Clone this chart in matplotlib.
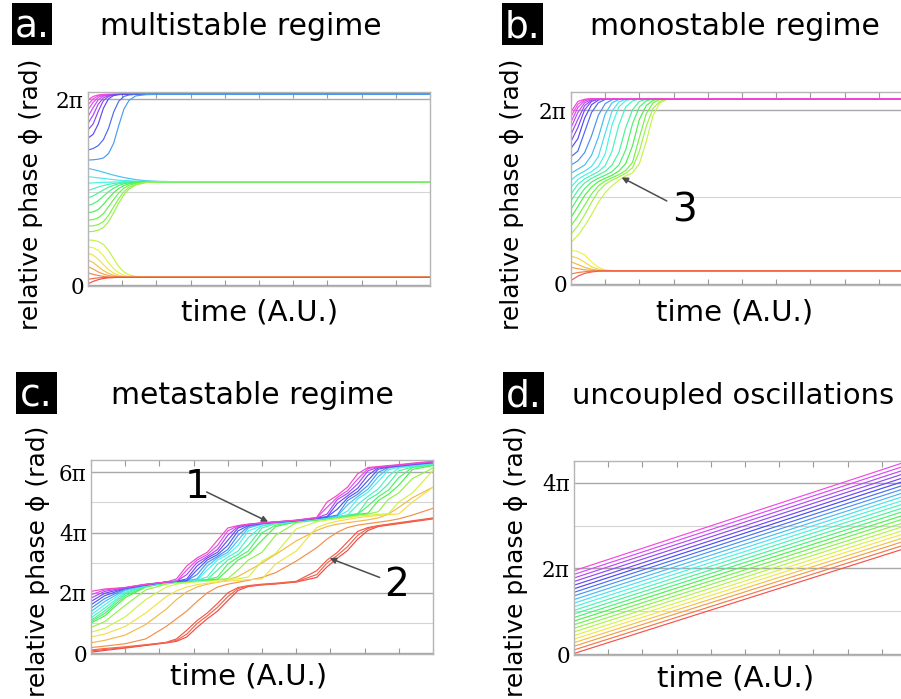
import numpy as np
import matplotlib
matplotlib.use('Agg')
import matplotlib.pyplot as plt
from matplotlib.colors import hsv_to_rgb
from matplotlib.patches import Rectangle

PI = np.pi

# ---- panel a: multistable (time A.U., phase rad) ----
t_a = [0, 0.15, 0.3, 0.45, 0.6, 0.75, 0.9, 1.05, 1.2, 1.4, 1.7, 2.1, 2.6, 10]
a_top = [
    [6.26, 6.38, 6.43, 6.45, 6.45, 6.45, 6.45, 6.45, 6.45, 6.45, 6.45, 6.45, 6.45, 6.45],
    [6.09, 6.30, 6.40, 6.44, 6.45, 6.45, 6.45, 6.45, 6.45, 6.45, 6.45, 6.45, 6.45, 6.45],
    [5.92, 6.18, 6.35, 6.42, 6.44, 6.45, 6.45, 6.45, 6.45, 6.45, 6.45, 6.45, 6.45, 6.45],
    [5.70, 6.00, 6.27, 6.39, 6.43, 6.45, 6.45, 6.45, 6.45, 6.45, 6.45, 6.45, 6.45, 6.45],
    [5.47, 5.75, 6.12, 6.33, 6.41, 6.44, 6.45, 6.45, 6.45, 6.45, 6.45, 6.45, 6.45, 6.45],
    [5.25, 5.45, 5.88, 6.24, 6.38, 6.43, 6.45, 6.45, 6.45, 6.45, 6.45, 6.45, 6.45, 6.45],
    [4.97, 5.10, 5.45, 5.98, 6.30, 6.41, 6.44, 6.45, 6.45, 6.45, 6.45, 6.45, 6.45, 6.45],
    [4.57, 4.62, 4.72, 4.92, 5.30, 5.85, 6.22, 6.38, 6.43, 6.45, 6.45, 6.45, 6.45, 6.45],
    [4.23, 4.24, 4.26, 4.30, 4.45, 4.80, 5.40, 5.95, 6.25, 6.40, 6.44, 6.45, 6.45, 6.45],
]
a_mid = [
    [3.95, 3.91, 3.87, 3.82, 3.77, 3.72, 3.68, 3.64, 3.61, 3.57, 3.53, 3.51, 3.50, 3.50],
    [3.67, 3.65, 3.63, 3.61, 3.59, 3.57, 3.55, 3.54, 3.53, 3.52, 3.51, 3.50, 3.50, 3.50],
    [3.45, 3.46, 3.47, 3.48, 3.48, 3.49, 3.49, 3.50, 3.50, 3.50, 3.50, 3.50, 3.50, 3.50],
    [3.20, 3.26, 3.32, 3.37, 3.41, 3.44, 3.46, 3.48, 3.49, 3.50, 3.50, 3.50, 3.50, 3.50],
    [2.95, 3.02, 3.12, 3.22, 3.31, 3.38, 3.43, 3.46, 3.48, 3.49, 3.50, 3.50, 3.50, 3.50],
    [2.70, 2.75, 2.86, 3.01, 3.16, 3.28, 3.37, 3.43, 3.46, 3.48, 3.50, 3.50, 3.50, 3.50],
    [2.45, 2.48, 2.56, 2.73, 2.94, 3.13, 3.27, 3.37, 3.43, 3.47, 3.49, 3.50, 3.50, 3.50],
    [2.20, 2.22, 2.28, 2.42, 2.65, 2.90, 3.12, 3.28, 3.38, 3.45, 3.49, 3.50, 3.50, 3.50],
    [2.00, 2.01, 2.05, 2.15, 2.36, 2.65, 2.93, 3.16, 3.31, 3.42, 3.48, 3.50, 3.50, 3.50],
    [1.81, 1.82, 1.86, 1.95, 2.15, 2.45, 2.78, 3.06, 3.25, 3.39, 3.47, 3.50, 3.50, 3.50],
]
a_low = [
    [1.53, 1.52, 1.48, 1.38, 1.18, 0.90, 0.63, 0.45, 0.35, 0.30, 0.28, 0.27, 0.27, 0.27],
    [1.30, 1.27, 1.18, 1.00, 0.76, 0.56, 0.42, 0.34, 0.30, 0.28, 0.27, 0.27, 0.27, 0.27],
    [1.08, 1.02, 0.88, 0.70, 0.53, 0.41, 0.34, 0.30, 0.28, 0.27, 0.27, 0.27, 0.27, 0.27],
    [0.85, 0.77, 0.63, 0.50, 0.40, 0.34, 0.30, 0.28, 0.27, 0.27, 0.27, 0.27, 0.27, 0.27],
    [0.63, 0.55, 0.45, 0.38, 0.33, 0.30, 0.28, 0.27, 0.27, 0.27, 0.27, 0.27, 0.27, 0.27],
    [0.42, 0.37, 0.33, 0.30, 0.28, 0.27, 0.27, 0.27, 0.27, 0.27, 0.27, 0.27, 0.27, 0.27],
    [0.20, 0.23, 0.25, 0.26, 0.27, 0.27, 0.27, 0.27, 0.27, 0.27, 0.27, 0.27, 0.27, 0.27],
    [0.05, 0.13, 0.19, 0.23, 0.25, 0.26, 0.27, 0.27, 0.27, 0.27, 0.27, 0.27, 0.27, 0.27],
]

# ---- panel b: monostable ----
t_b = [0, 0.2, 0.4, 0.6, 0.8, 1.0, 1.2, 1.4, 1.6, 1.8, 2.0, 2.2, 2.4, 2.6, 2.8, 3.0, 10]
b_top = [
    [6.22, 6.60, 6.68, 6.70, 6.70, 6.70, 6.70, 6.70, 6.70, 6.70, 6.70, 6.70, 6.70, 6.70, 6.70, 6.70, 6.70],
    [6.05, 6.50, 6.66, 6.70, 6.70, 6.70, 6.70, 6.70, 6.70, 6.70, 6.70, 6.70, 6.70, 6.70, 6.70, 6.70, 6.70],
    [5.85, 6.38, 6.62, 6.69, 6.70, 6.70, 6.70, 6.70, 6.70, 6.70, 6.70, 6.70, 6.70, 6.70, 6.70, 6.70, 6.70],
    [5.65, 6.20, 6.55, 6.67, 6.70, 6.70, 6.70, 6.70, 6.70, 6.70, 6.70, 6.70, 6.70, 6.70, 6.70, 6.70, 6.70],
    [5.40, 5.95, 6.45, 6.64, 6.69, 6.70, 6.70, 6.70, 6.70, 6.70, 6.70, 6.70, 6.70, 6.70, 6.70, 6.70, 6.70],
    [5.15, 5.65, 6.30, 6.60, 6.68, 6.70, 6.70, 6.70, 6.70, 6.70, 6.70, 6.70, 6.70, 6.70, 6.70, 6.70, 6.70],
    [4.90, 5.25, 6.00, 6.48, 6.65, 6.70, 6.70, 6.70, 6.70, 6.70, 6.70, 6.70, 6.70, 6.70, 6.70, 6.70, 6.70],
    [4.60, 4.80, 5.50, 6.20, 6.55, 6.67, 6.70, 6.70, 6.70, 6.70, 6.70, 6.70, 6.70, 6.70, 6.70, 6.70, 6.70],
    [4.30, 4.45, 4.75, 5.35, 6.10, 6.52, 6.66, 6.70, 6.70, 6.70, 6.70, 6.70, 6.70, 6.70, 6.70, 6.70, 6.70],
    [4.00, 4.15, 4.30, 4.65, 5.30, 6.15, 6.55, 6.67, 6.70, 6.70, 6.70, 6.70, 6.70, 6.70, 6.70, 6.70, 6.70],
    [3.75, 3.95, 4.08, 4.25, 4.60, 5.45, 6.25, 6.58, 6.68, 6.70, 6.70, 6.70, 6.70, 6.70, 6.70, 6.70, 6.70],
    [3.50, 3.78, 3.93, 4.06, 4.25, 4.70, 5.75, 6.40, 6.63, 6.69, 6.70, 6.70, 6.70, 6.70, 6.70, 6.70, 6.70],
    [3.25, 3.60, 3.80, 3.93, 4.06, 4.28, 4.80, 5.75, 6.40, 6.62, 6.69, 6.70, 6.70, 6.70, 6.70, 6.70, 6.70],
    [3.00, 3.38, 3.65, 3.82, 3.94, 4.07, 4.30, 4.75, 5.65, 6.30, 6.60, 6.68, 6.70, 6.70, 6.70, 6.70, 6.70],
    [2.70, 3.10, 3.45, 3.68, 3.82, 3.93, 4.06, 4.30, 4.85, 5.80, 6.40, 6.62, 6.69, 6.70, 6.70, 6.70, 6.70],
    [2.40, 2.80, 3.20, 3.50, 3.70, 3.82, 3.93, 4.08, 4.35, 5.00, 5.95, 6.45, 6.64, 6.69, 6.70, 6.70, 6.70],
    [2.10, 2.45, 2.85, 3.25, 3.55, 3.72, 3.84, 3.95, 4.10, 4.40, 5.30, 6.15, 6.55, 6.67, 6.70, 6.70, 6.70],
    [1.80, 2.10, 2.50, 2.95, 3.35, 3.60, 3.75, 3.87, 4.00, 4.20, 4.80, 5.70, 6.35, 6.60, 6.68, 6.70, 6.70],
    [1.50, 1.75, 2.10, 2.50, 2.95, 3.30, 3.55, 3.75, 3.90, 4.02, 4.35, 5.15, 6.10, 6.55, 6.67, 6.70, 6.70],
]
b_low = [
    [1.21, 1.17, 1.05, 0.80, 0.60, 0.51, 0.48, 0.47, 0.47, 0.47, 0.47, 0.47, 0.47, 0.47, 0.47, 0.47, 0.47],
    [1.00, 0.93, 0.78, 0.62, 0.53, 0.49, 0.47, 0.47, 0.47, 0.47, 0.47, 0.47, 0.47, 0.47, 0.47, 0.47, 0.47],
    [0.80, 0.70, 0.60, 0.53, 0.49, 0.47, 0.47, 0.47, 0.47, 0.47, 0.47, 0.47, 0.47, 0.47, 0.47, 0.47, 0.47],
    [0.60, 0.55, 0.51, 0.49, 0.48, 0.47, 0.47, 0.47, 0.47, 0.47, 0.47, 0.47, 0.47, 0.47, 0.47, 0.47, 0.47],
    [0.36, 0.41, 0.44, 0.46, 0.47, 0.47, 0.47, 0.47, 0.47, 0.47, 0.47, 0.47, 0.47, 0.47, 0.47, 0.47, 0.47],
    [0.12, 0.28, 0.38, 0.43, 0.46, 0.47, 0.47, 0.47, 0.47, 0.47, 0.47, 0.47, 0.47, 0.47, 0.47, 0.47, 0.47],
]

# ---- panel c: metastable ----
t_c = [0, 0.4, 1.0, 1.6, 2.2, 2.5, 2.8, 3.1, 3.4, 3.7, 4.0, 4.3, 4.6, 5.0, 5.4,
       6.0, 6.6, 6.9, 7.2, 7.5, 7.8, 8.1, 8.4, 8.7, 9.0, 9.4, 10]
c_red = [
    [0.12, 0.30, 0.55, 0.82, 1.08, 1.25, 1.70, 2.70, 3.60, 4.40, 5.50, 6.55, 6.95, 7.12, 7.22,
     7.42, 7.90, 9.00, 9.90, 10.7, 11.9, 12.8, 13.2, 13.35, 13.5, 13.7, 14.0],
    [0.25, 0.40, 0.60, 0.85, 1.15, 1.50, 2.40, 3.40, 4.20, 5.20, 6.30, 6.85, 7.05, 7.20, 7.30,
     7.50, 8.60, 9.70, 10.5, 11.6, 12.7, 13.1, 13.3, 13.45, 13.6, 13.8, 14.1],
    [0.35, 0.50, 0.68, 0.90, 1.12, 1.35, 2.00, 3.10, 3.90, 4.80, 5.90, 6.75, 7.00, 7.15, 7.25,
     7.45, 8.20, 9.40, 10.2, 11.1, 12.3, 13.0, 13.25, 13.4, 13.55, 13.75, 14.05],
]
c_orange = [
    [0.60, 0.75, 1.00, 1.50, 2.80, 3.60, 4.40, 5.40, 6.30, 6.90, 7.20, 7.40, 7.60, 7.90, 8.40,
     9.60, 11.0, 11.9, 12.6, 13.1, 13.35, 13.5, 13.65, 13.8, 14.0, 14.4, 15.1],
    [1.10, 1.35, 1.90, 3.00, 4.60, 5.60, 6.40, 6.90, 7.20, 7.40, 7.65, 8.00, 8.60, 9.40, 10.3,
     11.7, 12.8, 13.2, 13.45, 13.6, 13.75, 13.9, 14.1, 14.5, 15.2, 16.2, 17.3],
]
c_yellow = [
    [1.70, 2.00, 2.80, 4.20, 5.90, 6.50, 6.90, 7.15, 7.30, 7.42, 7.52, 7.60, 7.68, 7.75, 9.30,
     10.65, 13.1, 13.5, 13.75, 13.95, 14.12, 14.25, 14.35, 14.45, 14.52, 15.75, 17.3],
    [2.20, 2.60, 3.80, 5.60, 6.90, 7.20, 7.35, 7.45, 7.55, 7.62, 7.70, 7.76, 7.95, 9.60, 10.4,
     12.95, 13.7, 13.88, 14.02, 14.15, 14.28, 14.38, 14.46, 14.55, 15.75, 16.7, 19.05],
    [2.70, 3.30, 5.00, 6.60, 7.20, 7.35, 7.45, 7.55, 7.62, 7.70, 7.78, 8.68, 9.72, 10.52, 12.3,
     13.6, 13.85, 13.98, 14.12, 14.25, 14.4, 14.5, 14.75, 16.05, 16.7, 18.2, 19.3],
]
c_bundle = [
    [3.15, 3.90, 5.80, 6.90, 7.32, 7.42, 7.50, 7.58, 7.64, 7.72, 8.68, 9.72, 10.28, 11.77, 13.2,
     13.68, 13.9, 14.03, 14.18, 14.32, 14.48, 14.6, 15.9, 16.57, 17.5, 19.15, 19.55],
    [3.30, 4.15, 6.00, 6.95, 7.34, 7.44, 7.52, 7.60, 7.66, 7.95, 9.30, 10.0, 10.65, 12.55, 13.35,
     13.7, 13.92, 14.05, 14.2, 14.35, 14.5, 15.35, 16.3, 17.0, 18.3, 19.36, 19.6],
    [3.45, 4.40, 6.20, 7.00, 7.36, 7.46, 7.54, 7.60, 7.68, 8.68, 9.72, 10.28, 11.25, 13.05, 13.5,
     13.72, 13.95, 14.08, 14.22, 14.38, 14.55, 16.0, 16.65, 17.65, 19.0, 19.4, 19.65],
    [3.70, 4.70, 6.35, 7.02, 7.38, 7.48, 7.55, 7.62, 7.95, 9.30, 10.0, 10.65, 12.05, 13.25, 13.55,
     13.74, 13.98, 14.1, 14.25, 14.4, 15.5, 16.35, 17.12, 18.45, 19.3, 19.48, 19.72],
    [4.00, 5.05, 6.50, 7.05, 7.40, 7.50, 7.56, 7.62, 8.68, 9.72, 10.28, 11.25, 12.75, 13.3, 13.58,
     13.76, 14.0, 14.13, 14.28, 14.8, 16.1, 16.78, 17.9, 19.1, 19.38, 19.55, 19.78],
    [4.35, 5.40, 6.60, 7.08, 7.42, 7.50, 7.56, 7.75, 9.10, 9.93, 10.52, 11.77, 13.05, 13.45, 13.6,
     13.78, 14.02, 14.15, 14.3, 15.45, 16.33, 17.1, 18.4, 19.29, 19.45, 19.6, 19.82],
    [4.70, 5.70, 6.70, 7.10, 7.42, 7.50, 7.56, 8.20, 9.45, 10.08, 10.82, 12.3, 13.2, 13.5, 13.63,
     13.8, 14.05, 14.18, 14.4, 15.9, 16.57, 17.5, 18.85, 19.37, 19.5, 19.65, 19.85],
    [5.05, 6.00, 6.75, 7.12, 7.42, 7.50, 7.56, 8.68, 9.72, 10.28, 11.25, 12.75, 13.3, 13.53, 13.65,
     13.82, 14.06, 14.2, 15.0, 16.17, 16.85, 18.0, 19.17, 19.4, 19.52, 19.67, 19.87],
    [5.40, 6.25, 6.80, 7.14, 7.42, 7.50, 7.75, 9.10, 9.93, 10.52, 11.77, 13.05, 13.4, 13.55, 13.66,
     13.83, 14.08, 14.22, 15.6, 16.4, 17.2, 18.55, 19.32, 19.45, 19.55, 19.7, 19.9],
    [5.75, 6.45, 6.83, 7.16, 7.42, 7.50, 8.20, 9.45, 10.08, 10.82, 12.3, 13.2, 13.42, 13.56, 13.67,
     13.84, 14.1, 14.5, 16.0, 16.65, 17.65, 19.0, 19.38, 19.48, 19.58, 19.72, 19.92],
    [6.10, 6.60, 6.85, 7.18, 7.42, 7.50, 8.68, 9.72, 10.28, 11.25, 12.75, 13.28, 13.43, 13.58, 13.68,
     13.85, 14.12, 15.2, 16.23, 16.93, 18.15, 19.23, 19.4, 19.5, 19.6, 19.75, 19.95],
    [6.45, 6.70, 6.85, 7.20, 7.42, 7.75, 9.10, 9.93, 10.52, 11.77, 13.05, 13.3, 13.45, 13.6, 13.7,
     13.87, 14.15, 15.75, 16.45, 17.3, 18.7, 19.35, 19.45, 19.55, 19.65, 19.8, 20.0],
]
c_hue = [0.0, 0.015, 0.03, 0.07, 0.11, 0.15, 0.2, 0.26,
         0.33, 0.37, 0.41, 0.46, 0.5, 0.55, 0.6, 0.65, 0.7, 0.76, 0.82, 0.88]

# ---- panel d: uncoupled ----
t_d = [0, 10]
d_start = [0.07, 0.33, 0.60, 0.86, 1.12, 1.38, 1.65, 1.91, 2.17, 2.44, 2.70, 2.96,
           3.22, 3.49, 3.75, 4.01, 4.28, 4.54, 4.80, 5.06, 5.33, 5.59, 5.85, 6.12]
d_end = [8.00, 8.27, 8.55, 8.82, 9.10, 9.37, 9.65, 9.92, 10.20, 10.47, 10.75, 11.02,
         11.30, 11.57, 11.85, 12.12, 12.40, 12.67, 12.95, 13.22, 13.50, 13.77, 14.05, 14.32]

letters = ['a.', 'b.', 'c.', 'd.']
titles = ['multistable regime', 'monostable regime', 'metastable regime', 'uncoupled oscillations']
xlabel = 'time (A.U.)'
ylabel = 'relative phase \u03d5 (rad)'

plt.rcParams['font.family'] = ['DejaVu Sans']

W, H = 901, 699
fig = plt.figure(figsize=(W / 100, H / 100), dpi=100)


def px_axes(l, t, r, b):
    return fig.add_axes([l / W, 1 - b / H, (r - l) / W, (b - t) / H])


def ftext(x, y, s, **kw):
    return fig.text(x / W, 1 - y / H, s, **kw)


def col(h):
    return hsv_to_rgb((h, 0.7, 0.95))


def phase_hue(p):
    return min(p / (2 * PI), 1.0) * 0.87


def frame(ax, ylim, n_pi, tick_k):
    ax.set_xlim(0, 10)
    ax.set_ylim(*ylim)
    for k in range(n_pi + 1):
        even = k % 2 == 0
        ax.axhline(k * PI, color='#a8a8a8' if even else '#d4d4d4', lw=1.0 if even else 0.8, zorder=0)
    ax.set_xticks(range(11))
    ax.set_xticklabels([])
    ax.tick_params(axis='x', direction='in', length=4, width=0.8, color='#9a9a9a', top=True)
    ax.set_yticks([k * PI for k in tick_k])
    ax.set_yticklabels(['0' if k == 0 else '%d\u03c0' % k for k in tick_k],
                       fontfamily='DejaVu Serif', fontsize=15.5)
    ax.tick_params(axis='y', length=0, pad=3)
    for s in ax.spines.values():
        s.set_color('#b5b5b5')
        s.set_linewidth(1.0)


def arrow(ax, tail, tip):
    ax.annotate('', xy=tip, xytext=tail,
                arrowprops=dict(arrowstyle='-|>', color='#4d4d4d', lw=1.1,
                                mutation_scale=9, shrinkA=0, shrinkB=0))


ax_a = px_axes(88, 92, 430, 286)
ax_b = px_axes(571, 92, 913, 285)
ax_c = px_axes(91, 460, 433, 654)
ax_d = px_axes(574, 461, 916, 655)

frame(ax_a, (-0.024, 6.53), 2, [0, 2])
frame(ax_b, (-0.04, 6.94), 2, [0, 2])
frame(ax_c, (-0.07, 20.13), 6, [0, 2, 4, 6])
frame(ax_d, (-0.04, 14.14), 4, [0, 2, 4])

for row in a_low + a_mid + a_top:
    ax_a.plot(t_a, row, color=col(phase_hue(row[0])), lw=0.85)

for row in b_low + b_top[::-1]:
    ax_b.plot(t_b, row, color=col(phase_hue(row[0])), lw=0.85)

for row, h in zip(c_red + c_orange + c_yellow + c_bundle, c_hue):
    ax_c.plot(t_c, row, color=col(h), lw=0.85)

for p0, p1 in zip(d_start, d_end):
    ax_d.plot(t_d, [p0, p1], color=col(phase_hue(p0)), lw=0.85)

# annotations
arrow(ax_b, (2.8, 3.0), (1.48, 3.85))
ax_b.text(3.31, 2.64, '3', ha='center', va='center', fontsize=28)
arrow(ax_c, (3.38, 16.8), (5.18, 13.7))
ax_c.text(3.09, 17.35, '1', ha='center', va='center', fontsize=28)
arrow(ax_c, (8.44, 7.9), (6.98, 9.9))
ax_c.text(8.93, 7.1, '2', ha='center', va='center', fontsize=28)

# panel letters, titles and axis labels
boxes = [(12, 3, 52, 45), (502, 3, 543, 45), (16, 372, 57, 414), (503, 372, 544, 414)]
for (l, t, r, b), s in zip(boxes, letters):
    fig.patches.append(Rectangle((l / W, 1 - b / H), (r - l) / W, (b - t) / H,
                                 transform=fig.transFigure, facecolor='black', edgecolor='none'))
    ftext((l + r) / 2, b - 7.5, s, ha='center', va='baseline', color='white', fontsize=27)

ftext(241, 35, titles[0], ha='center', va='baseline', fontsize=21.5)
ftext(735, 35, titles[1], ha='center', va='baseline', fontsize=21.5)
ftext(252.5, 404, titles[2], ha='center', va='baseline', fontsize=21.5)
ftext(572, 404, titles[3], ha='left', va='baseline', fontsize=20.8)

for x, y in [(259.5, 320), (735, 320), (249, 685), (735.5, 686.7)]:
    ftext(x, y, xlabel, ha='center', va='baseline', fontsize=21)

for x, y in [(31.5, 194), (512, 194), (38, 561), (516, 561)]:
    ftext(x, y, ylabel, rotation=90, ha='center', va='center', fontsize=18)

fig.savefig('out.png', dpi=100)
